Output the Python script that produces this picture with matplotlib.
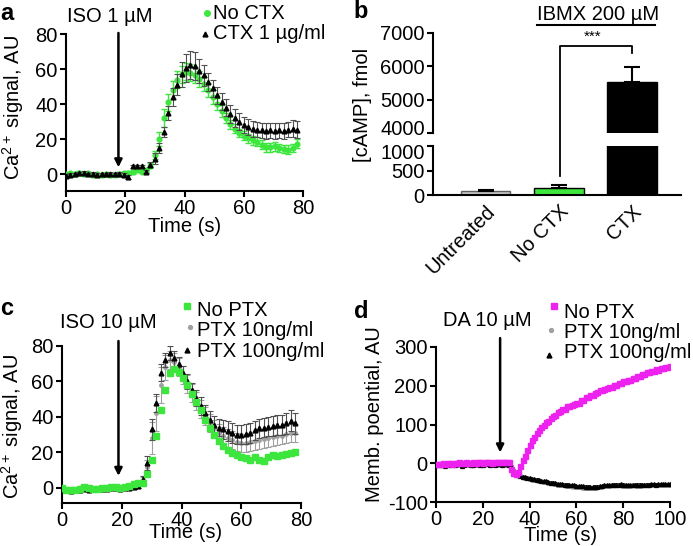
import numpy as np
import matplotlib
matplotlib.use('Agg')
import matplotlib.pyplot as plt
from matplotlib.lines import Line2D
from matplotlib.transforms import ScaledTranslation

plt.rcParams['font.family'] = ['Liberation Sans', 'DejaVu Sans']
plt.rcParams['mathtext.fontset'] = 'custom'
plt.rcParams['mathtext.rm'] = 'Liberation Sans'
plt.rcParams['mathtext.it'] = 'Liberation Sans:italic'
plt.rcParams['mathtext.bf'] = 'Liberation Sans:bold'
plt.rcParams['axes.unicode_minus'] = False

# ---------------- DATA ----------------
# Panel a: Ca2+ signal, ISO 1 uM, time step 1.5 s
a_step = 1.5
a_no_ctx = [0.0, 0.5, 0.3, 0.8, 0.2, 0.5, -0.3, 0.0, -0.5, 0.0,
            -0.6, -0.2, 0.3, 0.6, 0.8, 1.2, 2.5, 1.5, 2.2, 5.0,
            11.0, 20.0, 32.0, 41.0, 48.0, 54.0, 57.0, 58.5, 58.0, 56.5,
            54.5, 51.5, 48.0, 44.0, 40.0, 36.0, 32.0, 28.5, 26.0, 23.5,
            22.0, 20.5, 19.5, 18.5, 17.0, 15.5, 15.5, 16.0, 15.0, 14.5,
            14.0, 15.0, 17.5]
a_no_ctx_err = [1, 1, 1, 1, 1, 1, 1, 1, 1, 1,
                1, 1, 1, 1, 1, 1, 1, 1, 1, 1.5,
                2.5, 4, 5, 5, 5, 5, 5, 5, 5, 4.5,
                4.5, 4, 4, 4, 3.5, 3.5, 3, 2.5, 2.5, 2.5,
                2.5, 2.5, 2.5, 2.5, 2.5, 2.5, 2.5, 2.5, 2.5, 2.5,
                2.5, 2.5, 2.5]
a_ctx = [-1.0, -0.5, 0.0, 0.5, 1.0, 0.0, 0.2, -0.2, 0.0, 0.0,
         0.3, 0.0, 0.2, -0.5, -1.5, 4.5, 4.5, 4.5, 1.5, 5.5,
         9.0, 15.0, 24.0, 35.0, 44.0, 51.0, 57.0, 60.5, 62.5, 61.5,
         59.0, 56.5, 52.5, 49.0, 45.0, 41.5, 38.0, 34.5, 32.0, 30.0,
         28.0, 27.0, 26.0, 25.5, 25.0, 24.5, 25.0, 24.5, 25.0, 24.5,
         25.5, 26.0, 25.5]
a_ctx_err = [1, 1, 1, 1, 1, 1, 1, 1, 1, 1,
             1, 1, 1, 1, 1, 1, 1, 1, 1, 1.5,
             3, 3, 3, 4, 5, 6, 7, 8, 8, 8,
             7, 6, 5, 5, 5, 5, 5, 5, 5, 5,
             4.5, 4.5, 4.5, 4.5, 4.5, 4.5, 4.5, 4.5, 4.5, 4.5,
             4.5, 5, 5]

# Panel b: cAMP
b_groups = ['Untreated', 'No CTX', 'CTX']
b_values = [85, 150, 5540]
b_errors = [10, 45, 450]

# Panel c: Ca2+ signal, ISO 10 uM, time step 1.5 s
c_step = 1.5
c_no_ptx = [0.0, -1.0, -1.0, -1.0, -0.5, 0.5, 0.0, -0.5, -0.5, 0.0,
            0.0, 0.3, 0.5, 0.0, 0.5, 1.0, 2.0, 2.5, 3.0, 8.0,
            15.5, 29.0, 44.0, 55.0, 64.5, 67.0, 65.5, 62.0, 58.0, 53.0,
            48.5, 44.0, 38.5, 34.0, 30.0, 26.5, 23.5, 21.5, 19.5, 18.5,
            17.5, 17.0, 15.5, 17.5, 16.0, 15.0, 17.5, 18.5, 18.0, 18.5,
            19.0, 19.5, 20.5]
c_ptx10 = [-0.5, -1.0, -0.5, -1.0, -0.5, 0.0, -0.5, -0.5, 0.0, -0.5,
           0.0, 0.0, 0.0, -0.5, 0.0, 0.5, 0.5, 1.0, 4.0, 12.0,
           28.0, 42.0, 58.0, 68.0, 72.0, 71.0, 68.0, 63.5, 58.5, 53.5,
           49.0, 44.5, 40.5, 36.5, 33.5, 31.0, 29.5, 28.0, 27.0, 26.0,
           25.5, 25.5, 26.0, 26.5, 27.0, 27.5, 28.0, 28.5, 29.0, 29.5,
           30.5, 31.0, 31.0]
c_ptx10_err = [1, 1, 1, 1, 1, 1, 1, 1, 1, 1,
               1, 1, 1, 1, 1, 1, 1, 1, 2, 4,
               9, 10, 10, 7, 5, 5, 5, 5, 5, 5,
               5, 5, 5, 5, 5, 5, 5, 5, 5, 5,
               5, 5, 5, 5, 5, 5, 5, 5, 5, 5,
               5, 5, 5]
c_ptx100 = [-1.0, -1.0, -1.5, -1.0, -1.0, -0.5, -1.0, -0.5, -0.5, -0.5,
            -0.5, 0.0, 0.0, -0.5, 0.0, 0.0, 0.5, 1.0, 5.0, 14.0,
            33.0, 48.0, 65.0, 72.0, 76.0, 73.0, 70.0, 65.0, 60.0, 55.0,
            50.5, 46.0, 42.0, 38.5, 35.5, 34.0, 33.0, 32.0, 31.0, 30.0,
            30.0, 30.5, 31.0, 32.5, 33.5, 34.0, 34.5, 35.0, 35.5, 35.5,
            36.5, 38.0, 36.5]
c_ptx100_err = [1, 1, 1, 1, 1, 1, 1, 1, 1, 1,
                1, 1, 1, 1, 1, 1, 1, 1, 2, 4,
                6, 5, 5, 4, 4, 4, 4, 4, 4, 4,
                4.5, 5, 5, 5, 5, 5, 5.5, 5.5, 5.5, 5.5,
                5.5, 5.5, 5.5, 5.5, 5.5, 5.5, 5.5, 5.5, 5.5, 5.5,
                6, 6, 6]

# Panel d: membrane potential, DA 10 uM, time step 1 s
d_step = 1.0
d_no_ptx = [-2, -3, -1, 0, -2, 1, 0, -1, 1, 0,
            2, 1, 0, 2, 1, 0, 2, 1, 3, 2,
            1, 2, 3, 2, 1, 3, 2, 4, 3, 2,
            4, 3, -14, -25, -27, -22, -6, 8, 20, 34,
            47, 60, 68, 79, 85, 94, 98, 106, 109, 117,
            121, 124, 131, 134, 140, 141, 147, 147, 151, 152,
            156, 156, 162, 164, 170, 171, 176, 177, 182, 183,
            188, 188, 192, 193, 197, 197, 202, 202, 206, 207,
            211, 211, 216, 216, 221, 221, 225, 226, 230, 230,
            235, 235, 238, 238, 242, 241, 245, 245, 248, 248,
            251]
d_ptx10 = [-3, -4, -2, -5, -3, -4, -2, -5, -3, -4,
           -2, -4, -5, -3, -4, -2, -3, -5, -4, -3,
           -4, -2, -3, -5, -4, -2, -4, -3, -2, -3,
           -4, -3, -10, -20, -26, -31, -34, -36, -38, -39,
           -40, -42, -43, -44, -45, -47, -48, -49, -50, -51,
           -52, -54, -55, -56, -57, -57, -58, -59, -60, -60,
           -61, -62, -62, -63, -63, -64, -64, -63, -63, -62,
           -61, -60, -59, -58, -58, -57, -57, -56, -56, -57,
           -58, -58, -59, -58, -57, -57, -58, -58, -57, -56,
           -56, -57, -56, -56, -57, -56, -55, -56, -55, -56,
           -55]
d_ptx100 = [-4, -2, -5, -3, -6, -2, -4, -3, -5, -2,
            -3, -6, -4, -2, -3, -5, -4, -3, -2, -4,
            -5, -3, -2, -4, -3, -5, -2, -3, -4, -2,
            -3, -4, -8, -18, -25, -30, -33, -35, -36, -38,
            -39, -40, -41, -42, -44, -45, -46, -47, -48, -50,
            -51, -52, -53, -53, -54, -55, -55, -56, -57, -57,
            -58, -58, -58, -59, -60, -60, -61, -61, -60, -60,
            -59, -58, -57, -57, -56, -56, -55, -55, -55, -54,
            -55, -56, -56, -57, -56, -56, -55, -55, -56, -56,
            -55, -55, -54, -54, -55, -54, -54, -53, -54, -53,
            -54]
d_no_ptx_err = 4
d_ptx10_err = 5
d_ptx100_err = 3

# ---------------- STYLE ----------------
FS = 14.5
FL = 17
GREEN = '#3de63d'
MAGENTA = '#ee22ee'
GRAY = '#a0a0a0'
W, H = 693, 546

fig = plt.figure(figsize=(W / 100, H / 100), dpi=100)


def px_axes(l, t, r, b):
    return fig.add_axes([l / W, 1 - b / H, (r - l) / W, (b - t) / H])


def style(ax):
    for s in ['top', 'right']:
        ax.spines[s].set_visible(False)
    for s in ['left', 'bottom']:
        ax.spines[s].set_linewidth(1.5)
    ax.tick_params(direction='out', length=4, width=1.5, labelsize=FS, pad=2)


def ftext(x, y, s, **kw):
    kw.setdefault('fontsize', FS)
    return fig.text(x / W, 1 - y / H, s, **kw)


def fmark(x, y, marker, color, ms):
    fig.add_artist(Line2D([x / W], [1 - y / H], marker=marker, color=color,
                          markersize=ms, linestyle='none',
                          transform=fig.transFigure))


def arrow(ax, x, y0, y1):
    ax.annotate('', xy=(x, y1), xytext=(x, y0),
                arrowprops=dict(arrowstyle='-|>', color='black', lw=1.8,
                                mutation_scale=11, shrinkA=0, shrinkB=0),
                annotation_clip=False)


# ---------------- PANEL A ----------------
ax = px_axes(66, 34, 303, 191)
style(ax)
ta = np.arange(len(a_no_ctx)) * a_step
ax.errorbar(ta, a_no_ctx, yerr=a_no_ctx_err, fmt='o', ms=3.4, color=GREEN,
            ecolor=GREEN, elinewidth=1, capsize=2, capthick=1, zorder=3)
ax.errorbar(ta, a_ctx, yerr=a_ctx_err, fmt='^', ms=3.4, color='black',
            ecolor='#505050', elinewidth=0.8, capsize=2, capthick=0.8, zorder=4)
ax.set_xlim(0, 80)
ax.set_ylim(-9.5, 80)
ax.set_xticks([0, 20, 40, 60, 80])
ax.set_yticks([0, 20, 40, 60, 80])
ax.set_xlabel('Time (s)', fontsize=FS, va='top')
ax.xaxis.set_label_coords(0.502, -0.165)
ax.set_ylabel('Ca$^{2+}$ signal, AU', fontsize=FS)
ax.yaxis.set_label_coords(-0.17, 0.53)
arrow(ax, 17.7, 80.6, 4)
ftext(110, 22, 'ISO 1 µM', ha='center', va='baseline')
ftext(0, 20, 'a', ha='left', va='baseline', fontsize=FL, weight='bold')
fmark(207, 13, 'o', GREEN, 4)
ftext(213, 19, 'No CTX', ha='left', va='baseline')
fmark(205, 34, '^', 'black', 3.5)
ftext(213, 39, 'CTX 1 µg/ml', ha='left', va='baseline')

# ---------------- PANEL B ----------------
xb = np.arange(len(b_groups))
bcolors = ['#c4c4c4', GREEN, 'black']
bedges = ['#606060', 'black', 'black']
ax_lo = px_axes(433, 146, 681, 195)
ax_hi = px_axes(433, 33, 681, 133)
for axx in (ax_lo, ax_hi):
    style(axx)
    axx.bar(xb, b_values, width=0.68, color=bcolors, edgecolor=bedges,
            linewidth=1)
    axx.errorbar(xb, b_values, yerr=[[0, 0, 0], b_errors], fmt='none',
                 ecolor='black', elinewidth=1.5, capsize=6, capthick=1.5)
    axx.set_xlim(-0.717, 2.669)
ax_lo.set_ylim(0, 1000)
ax_lo.set_yticks([0, 500, 1000])
ax_lo.set_xticks(xb)
ax_lo.set_xticklabels(b_groups, rotation=45, ha='right', va='top',
                      rotation_mode='anchor', fontsize=FS)
ax_lo.tick_params(axis='x', length=0, pad=5)
ax_hi.set_ylim(4000, 7000)
ax_hi.set_yticks([4000, 5000, 6000, 7000])
ax_hi.spines['bottom'].set_visible(False)
ax_hi.set_xticks([])
# nudge the crowded break labels slightly apart
lab_hi = ax_hi.get_yticklabels()[0]
lab_hi.set_transform(lab_hi.get_transform() +
                     ScaledTranslation(0, 4 / 72, fig.dpi_scale_trans))
lab_lo = ax_lo.get_yticklabels()[-1]
lab_lo.set_transform(lab_lo.get_transform() +
                     ScaledTranslation(0, -4 / 72, fig.dpi_scale_trans))
# significance bracket and IBMX line
ax_hi.plot([1.02, 1.02, 2.0, 2.0], [2710, 6620, 6620, 6390], color='black',
           lw=1.3, clip_on=False)
ax_hi.plot([0.70, 2.31], [7235, 7235], color='black', lw=1.5, clip_on=False)
ftext(593, 41, '***', ha='center', va='baseline', fontsize=11)
ftext(598, 20, 'IBMX 200 µM', ha='center', va='baseline')
ftext(362, 105, '[cAMP], fmol', ha='center', va='center', rotation=90)
ftext(353, 18, 'b', ha='left', va='baseline', fontsize=FL, weight='bold')

# ---------------- PANEL C ----------------
ax = px_axes(62, 346, 301, 503)
style(ax)
tc = np.arange(len(c_no_ptx)) * c_step
ax.errorbar(tc, c_ptx10, yerr=c_ptx10_err, fmt='o', ms=2.5, color=GRAY,
            ecolor=GRAY, elinewidth=0.8, capsize=2, capthick=0.8, zorder=2)
ax.errorbar(tc, c_ptx100, yerr=c_ptx100_err, fmt='^', ms=3.4, color='black',
            ecolor='#505050', elinewidth=0.8, capsize=2, capthick=0.8, zorder=3)
ax.plot(tc, c_no_ptx, 's', ms=3.8, color=GREEN, zorder=4)
ax.set_xlim(0, 80)
ax.set_ylim(-8.5, 80)
ax.set_xticks([0, 20, 40, 60, 80])
ax.set_yticks([0, 20, 40, 60, 80])
ax.set_xlabel('Time (s)', fontsize=FS, va='top')
ax.xaxis.set_label_coords(0.515, -0.13)
ax.set_ylabel('Ca$^{2+}$ signal, AU', fontsize=FS)
ax.yaxis.set_label_coords(-0.155, 0.49)
arrow(ax, 18.9, 82.8, 6.8)
ftext(108, 328, 'ISO 10 µM', ha='center', va='baseline')
ftext(0, 315, 'c', ha='left', va='baseline', fontsize=FL, weight='bold')
fmark(187, 306, 's', GREEN, 4)
ftext(197, 316, 'No PTX', ha='left', va='baseline')
fmark(190, 327, 'o', GRAY, 2.8)
ftext(197, 336, 'PTX 10ng/ml', ha='left', va='baseline')
fmark(187, 350, '^', 'black', 3.5)
ftext(197, 357, 'PTX 100ng/ml', ha='left', va='baseline')

# ---------------- PANEL D ----------------
ax = px_axes(436, 347, 670, 502)
style(ax)
td = np.arange(len(d_no_ptx)) * d_step
ax.errorbar(td, d_ptx10, yerr=d_ptx10_err, fmt='o', ms=2.2, color=GRAY,
            ecolor=GRAY, elinewidth=0.7, capsize=1.5, capthick=0.7, zorder=2)
ax.errorbar(td, d_ptx100, yerr=d_ptx100_err, fmt='^', ms=2.8, color='black',
            ecolor='#404040', elinewidth=0.7, capsize=1.5, capthick=0.7, zorder=3)
ax.errorbar(td, d_no_ptx, yerr=d_no_ptx_err, fmt='s', ms=3.6, color=MAGENTA,
            ecolor='#f07af0', elinewidth=0.7, capsize=1.5, capthick=0.7, zorder=4)
ax.set_xlim(0, 100)
ax.set_ylim(-100, 300)
ax.set_xticks([0, 20, 40, 60, 80, 100])
ax.set_yticks([-100, 0, 100, 200, 300])
ax.set_xlabel('Time (s)', fontsize=FS, va='top')
ax.xaxis.set_label_coords(0.534, -0.155)
ax.set_ylabel('Memb. poential, AU', fontsize=FS)
ax.yaxis.set_label_coords(-0.222, 0.57)
arrow(ax, 27.4, 323, 28)
ftext(487, 326, 'DA 10 µM', ha='center', va='baseline')
ftext(354, 318, 'd', ha='left', va='baseline', fontsize=FL, weight='bold')
fmark(554, 306, 's', MAGENTA, 4)
ftext(564, 318, 'No PTX', ha='left', va='baseline')
fmark(551, 330, 'o', GRAY, 2.8)
ftext(564, 338, 'PTX 10ng/ml', ha='left', va='baseline')
fmark(549, 355, '^', 'black', 3.5)
ftext(564, 358, 'PTX 100ng/ml', ha='left', va='baseline')

fig.savefig('out.png', dpi=100)
